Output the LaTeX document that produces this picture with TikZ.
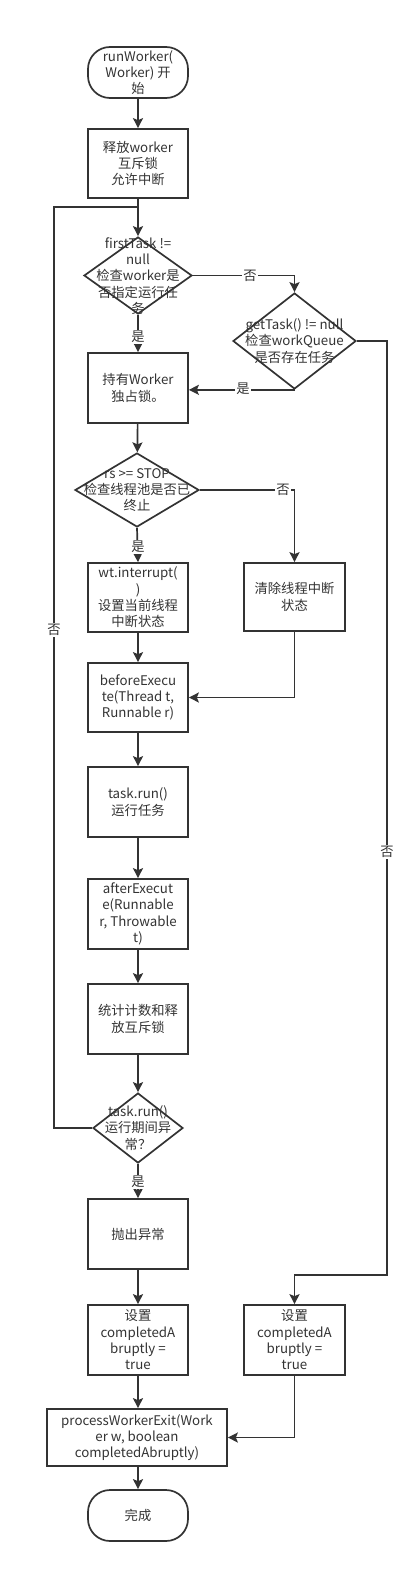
\documentclass[tikz,border=0pt]{standalone}
\usepackage{fontspec}
\setmainfont{Noto Sans CJK SC}
\usetikzlibrary{arrows.meta,shapes.geometric}
\definecolor{ink}{HTML}{333333}
\begin{document}
\begin{tikzpicture}[x=1pt,y=-1pt,
  txt/.style={text=ink, font=\fontsize{13.3}{16.3}\selectfont, align=center, inner sep=0pt},
  proc/.style={txt, draw=ink, line width=1.7pt, rectangle, minimum width=100pt, minimum height=70pt},
  term/.style={txt, draw=ink, line width=1.7pt, rectangle, rounded corners=22pt, minimum width=100pt, minimum height=51pt},
  dia/.style={draw=ink, line width=1.7pt, diamond, inner sep=0pt},
  lbl/.style={txt, fill=white, inner sep=1pt},
  ln/.style={draw=ink, line width=1.7pt},
  arr/.style={ln, -{Stealth[length=10pt,width=10pt,inset=2pt]}}
]
\useasboundingbox (0,0) rectangle (418,1573);
% nodes
\node[term] (st) at (138,72.5) {runWorker(\\Worker) 开\\始};
\node[proc, minimum height=69pt] (b1) at (138,163.5) {释放worker\\互斥锁\\允许中断};
\node[dia, minimum width=108pt, minimum height=77pt] (d1) at (138,275.5) {};
\node[txt] (d1t) at (138,276) {firstTask !=\\null\\检查worker是\\否指定运行任\\务};
\node[dia, minimum width=123pt, minimum height=96pt] (d2) at (294.5,341) {};
\node[txt] (d2t) at (294.5,341) {getTask() != null\\检查workQueue\\是否存在任务};
\node[proc] (b2) at (138,388) {持有Worker\\独占锁。};
\node[dia, minimum width=124pt, minimum height=74pt] (d3) at (137,490) {};
\node[txt] (d3t) at (137,490) {rs >= STOP\\检查线程池是否已\\终止};
\node[proc, minimum height=69pt] (b3) at (138,597.5) {wt.interrupt(\\)\\设置当前线程\\中断状态};
\node[proc, minimum width=101pt, minimum height=68pt] (clr) at (294.5,597) {清除线程中断\\状态};
\node[proc, minimum height=69pt] (be) at (138,697.5) {beforeExecu\\te(Thread t,\\Runnable r)};
\node[proc] (tr) at (138,802) {task.run()\\运行任务};
\node[proc] (ae) at (138,914) {afterExecut\\e(Runnable\\r, Throwable\\t)};
\node[proc] (stat) at (138,1019) {统计计数和释\\放互斥锁};
\node[dia, minimum width=90pt, minimum height=70pt] (d4) at (138,1128) {};
\node[txt] (d4t) at (138,1128) {task.run()\\运行期间异\\常？};
\node[proc] (th) at (138,1234) {抛出异常};
\node[proc] (s1) at (138,1340) {设置\\completedA\\bruptly =\\true};
\node[proc, minimum width=101pt] (s2) at (294.5,1340) {设置\\completedA\\bruptly =\\true};
\node[proc, minimum width=180pt, minimum height=57pt] (pwe) at (137,1437.5) {processWorkerExit(Work\\er w, boolean\\completedAbruptly)};
\node[term] (en) at (138,1515.5) {完成};
\coordinate (lx) at (54,207);
\coordinate (rx) at (387,1275);
% connectors
\draw[arr] (st) -- (b1);
\draw[arr] (b1) -- (d1);
\draw[ln] (d4.west) -| (lx) -- (lx -| b1.south);
\draw[arr] (d1.south) -- (b2.north);
\draw[arr] (d1.east) -| (d2.north);
\draw[arr] (d2.south) -- (d2.south -| b2.east);
\draw[arr] (d2.east) -| (rx) -| (s2.north);
\draw[arr] (b2) -- (d3);
\draw[arr] (d3.south) -- (b3.north);
\draw[arr] (d3.east) -| (clr.north);
\draw[arr] (clr.south) |- (be.east);
\draw[arr] (b3) -- (be);
\draw[arr] (be) -- (tr);
\draw[arr] (tr) -- (ae);
\draw[arr] (ae) -- (stat);
\draw[arr] (stat) -- (d4);
\draw[arr] (d4.south) -- (th.north);
\draw[arr] (th) -- (s1);
\draw[arr] (s1) -- (s1 |- pwe.north);
\draw[arr] (s2.south) |- (pwe.east);
\draw[arr] (pwe.south -| en.north) -- (en.north);
% labels
\node[lbl] (l1) at (138,337) {是};
\node[lbl] (l2) at (250,276) {否};
\node[lbl] (l3) at (243,389) {是};
\node[lbl] (l4) at (387,852) {否};
\node[lbl] (l5) at (138,547) {是};
\node[lbl] (l6) at (283,490) {否};
\node[lbl] (l7) at (54,630) {否};
\node[lbl] (l8) at (138,1182) {是};
\end{tikzpicture}
\end{document}
